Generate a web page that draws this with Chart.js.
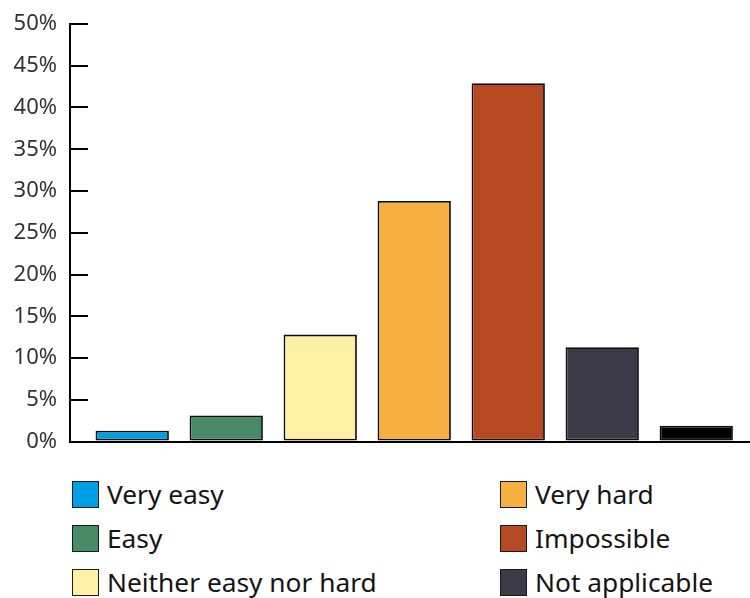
<!DOCTYPE html>
<html>
<head>
<meta charset="utf-8">
<script src="https://cdn.jsdelivr.net/npm/chart.js@4.4.0/dist/chart.umd.min.js"></script>
<style>
  html, body { margin: 0; padding: 0; background: #fff; }
  body { width: 750px; height: 598px; overflow: hidden; position: relative; font-family: "Noto Sans", sans-serif; }
  #wrap { position: absolute; left: 0; top: 0; width: 750px; height: 460px; }
  #legend {
    position: absolute; left: 72px; top: 481px;
    display: grid; grid-auto-flow: column;
    grid-template-rows: repeat(3, 44px);
    grid-auto-columns: 428px;
  }
  .item { display: flex; align-items: flex-start; height: 44px; }
  .sw { width: 25px; height: 25px; border: 1px solid #1a1a1a; box-sizing: content-box; margin-right: 8px; flex: none; }
  .lab { font-size: 26.3px; line-height: 27px; color: #141414; white-space: nowrap; }
</style>
</head>
<body>
<div id="wrap"><canvas id="chart"></canvas></div>
<div id="legend"></div>
<script>
// answers and share of respondents (%)
const answers = ['Very easy', 'Easy', 'Neither easy nor hard', 'Very hard', 'Impossible', 'Not applicable', "Don't know"]
const shares = [1.3, 3.1, 12.8, 28.8, 42.9, 11.3, 1.9]
const colors = ['#009FE3', '#478A65', '#FFF0A5', '#F8AF42', '#B54A22', '#3D3A48', '#000000']

const points = shares.map((v, i) => ({ x: i, y: v }))

const ctx = document.getElementById('chart').getContext('2d')
const chart = new Chart(ctx, {
    type: 'bar',
    data: {
        datasets: [{
            label: 'Share',
            data: points,
            backgroundColor: colors,
            borderColor: '#0d0d0d',
            borderWidth: 1.8,
            borderSkipped: false,
            barPercentage: 0.78,
            categoryPercentage: 1
        }]
    },
    options: {
        responsive: true,
        maintainAspectRatio: false,
        animation: false,
        layout: { padding: { top: 24, bottom: 18.5, left: 0, right: 0 } },
        plugins: {
            legend: { display: false },
            tooltip: { enabled: false }
        },
        scales: {
            x: {
                type: 'linear',
                offset: false,
                min: -0.662,
                max: 6.572,
                ticks: { display: false, stepSize: 1, includeBounds: false },
                grid: { display: false, drawTicks: false },
                border: { display: true, color: '#000', width: 2 }
            },
            y: {
                min: 0,
                max: 50,
                afterFit: (s) => {
                    s.width = 70
                    s.paddingTop = 0
                    s.paddingBottom = 0
                },
                ticks: {
                    stepSize: 5,
                    padding: 31,
                    color: '#333',
                    font: { family: 'Noto Sans', size: 22 },
                    callback: (v) => v + '%'
                },
                grid: {
                    drawOnChartArea: false,
                    drawTicks: true,
                    tickLength: -18,
                    color: '#000',
                    lineWidth: 2
                },
                border: { display: true, color: '#000', width: 2 }
            }
        }
    }
})

// legend, two columns
const legend = document.getElementById('legend')
answers.forEach((a, i) => {
    const item = document.createElement('div')
    item.className = 'item'
    const sw = document.createElement('span')
    sw.className = 'sw'
    sw.style.background = colors[i]
    const lab = document.createElement('span')
    lab.className = 'lab'
    lab.textContent = a
    item.appendChild(sw)
    item.appendChild(lab)
    legend.appendChild(item)
})
</script>
</body>
</html>
